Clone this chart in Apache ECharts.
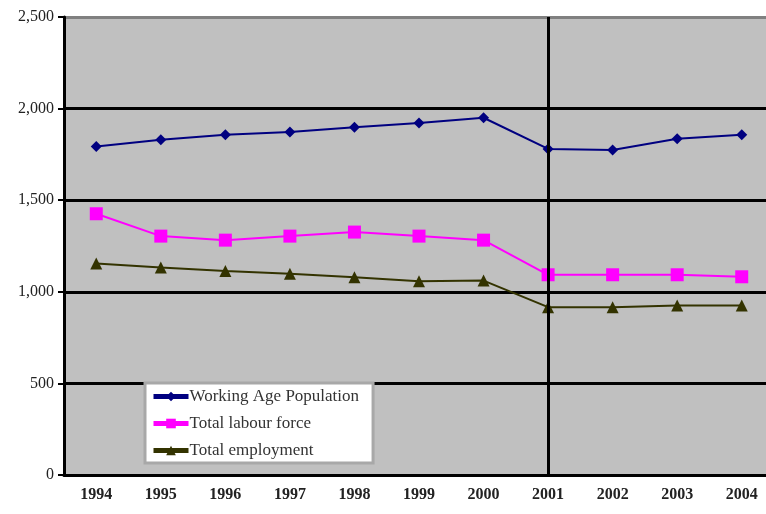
<!DOCTYPE html>
<html><head><meta charset="utf-8">
<script src="https://cdn.jsdelivr.net/npm/echarts@6/dist/echarts.min.js"></script>
<style>html,body{margin:0;padding:0;background:#fff}#c{width:766px;height:514px}</style>
</head><body><div id="c"></div>
<script>
const categories = ['1994','1995','1996','1997','1998','1999','2000','2001','2002','2003','2004'];
const workingAge = [1793,1830,1857,1872,1898,1922,1950,1780,1774,1835,1857];
const labourForce = [1426,1304,1282,1304,1326,1304,1282,1093,1093,1093,1082];
const employment = [1154,1132,1113,1098,1080,1057,1061,916,916,925,925];
const yTicks = [0,500,1000,1500,2000,2500];
const markYear = '2001';

const chart = echarts.init(document.getElementById('c'));
const font = 'Liberation Serif';
chart.setOption({
  animation:false,
  backgroundColor:'#fff',
  grid:{left:64, top:17, width:710, height:458, outerBoundsMode:'none', containLabel:false,
        backgroundColor:'#C0C0C0', show:true, borderWidth:0},
  legend:{
    orient:'vertical', left:145, top:383,
    backgroundColor:'#fff', borderColor:'#a8a8a8', borderWidth:3, padding:[5,14,4,6],
    itemWidth:35, itemHeight:12, itemGap:10,
    lineStyle:{width:5},
    textStyle:{fontFamily:font, fontSize:17, color:'#333', padding:[0,0,0,-4]},
    data:['Working Age Population','Total labour force','Total employment']
  },
  xAxis:{
    type:'category', data:categories, boundaryGap:true,
    axisLine:{lineStyle:{color:'#000', width:3}},
    axisTick:{length:8, lineStyle:{color:'#000', width:2}},
    axisLabel:{fontFamily:font, fontSize:16, fontWeight:'bold', color:'#222', margin:12},
    splitLine:{show:false}
  },
  yAxis:{
    type:'value', min:yTicks[0], max:yTicks[yTicks.length-1], interval:500,
    axisLine:{show:true, lineStyle:{color:'#000', width:3}},
    axisTick:{show:true, length:6, lineStyle:{color:'#000', width:2}},
    axisLabel:{fontFamily:font, fontSize:16, color:'#222', margin:10,
      formatter:v=>v.toLocaleString('en-US')},
    splitLine:{show:true, lineStyle:{color:['#000','#000','#000','#000','#000','#808080'], width:3}}
  },
  series:[
    {name:'Working Age Population', type:'line', data:workingAge, symbol:'diamond', symbolSize:11,
     itemStyle:{color:'#000080'}, lineStyle:{color:'#000080', width:2},
     markLine:{silent:true, symbol:'none', label:{show:false},
       lineStyle:{color:'#000', width:3, type:'solid'}, data:[{xAxis:markYear}]}},
    {name:'Total labour force', type:'line', data:labourForce, symbol:'rect', symbolSize:13,
     itemStyle:{color:'#FF00FF'}, lineStyle:{color:'#FF00FF', width:2}},
    {name:'Total employment', type:'line', data:employment, symbol:'triangle', symbolSize:12,
     itemStyle:{color:'#333300'}, lineStyle:{color:'#333300', width:2}}
  ]
});
</script></body></html>
